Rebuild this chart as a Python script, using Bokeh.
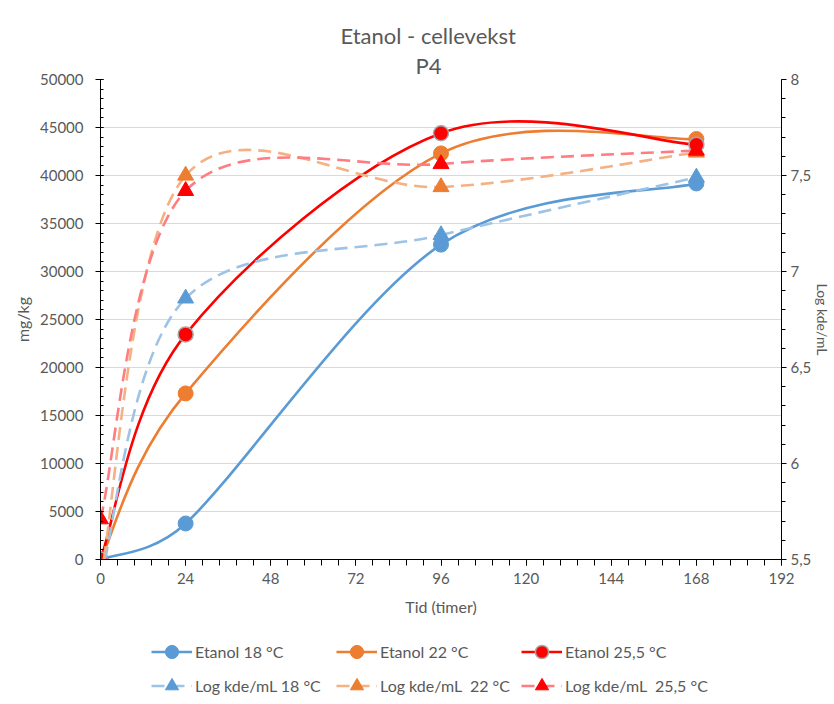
import numpy as np
from bokeh.plotting import figure
from bokeh.layouts import column
from bokeh.models import (Range1d, LinearAxis, Legend, LegendItem, Title,
                          SingleIntervalTicker, CustomJSTickFormatter, BasicTickFormatter)
from bokeh.embed import file_html
from bokeh.resources import INLINE

# ---------------- data ----------------
hours = [0, 24, 96, 168]
etanol_18 = [0, 3750, 32800, 39170]
etanol_22 = [0, 17300, 42300, 43800]
etanol_25_5 = [0, 23450, 44400, 43200]
log_18 = [5.4, 6.86, 7.19, 7.49]
log_22 = [5.4, 7.50, 7.44, 7.62]
log_25_5 = [5.71, 7.42, 7.56, 7.63]

x_ticks_interval = 24
title_main = "Etanol - cellevekst"
title_sub = "P4"

FONT = "Lato"
GREY = "#595959"

X_MAX = 192
Y_MAX = 50000
LOG_MIN, LOG_MAX = 5.5, 8
FRAME_W, FRAME_H = 683, 480


def smooth_segments(xs, ys, x_span, y_span):
    """Bezier control points of an Excel-like smoothed line (computed in screen proportions)."""
    sx = FRAME_W / x_span
    sy = FRAME_H / y_span
    P = np.column_stack([np.asarray(xs, float) * sx, np.asarray(ys, float) * sy])
    n = len(P)
    Pp = np.vstack([P[0], P, P[-1]])
    out = {k: [] for k in ("x0", "y0", "x1", "y1", "cx0", "cy0", "cx1", "cy1")}
    for i in range(n - 1):
        a, b = P[i], P[i + 1]
        seg = np.hypot(*(b - a))
        v1 = (Pp[i + 2] - Pp[i]) / 6
        v2 = (Pp[i + 3] - Pp[i + 1]) / 6
        for v in (v1, v2):
            L = np.hypot(*v)
            if L > seg / 2 and L > 0:
                v *= (seg / 2) / L
        c1 = a + v1
        c2 = b - v2
        out["x0"].append(a[0] / sx); out["y0"].append(a[1] / sy)
        out["x1"].append(b[0] / sx); out["y1"].append(b[1] / sy)
        out["cx0"].append(c1[0] / sx); out["cy0"].append(c1[1] / sy)
        out["cx1"].append(c2[0] / sx); out["cy1"].append(c2[1] / sy)
    return out


p = figure(width=834, height=632, output_backend="svg", toolbar_location=None,
           x_range=Range1d(0, X_MAX), y_range=Range1d(0, Y_MAX),
           min_border_left=100, min_border_right=51, min_border_top=79, min_border_bottom=73)
p.extra_y_ranges = {"log": Range1d(LOG_MIN, LOG_MAX)}
p.outline_line_color = None
p.background_fill_color = "white"
p.border_fill_color = "white"

# titles
p.add_layout(Title(text=title_sub, align="left", offset=315, text_font=FONT, text_font_size="22px",
                   text_color=GREY, text_font_style="normal", standoff=2), "above")
p.add_layout(Title(text=title_main, align="left", offset=240, text_font=FONT, text_font_size="22px",
                   text_color=GREY, text_font_style="normal", standoff=0), "above")

# axes
xa = p.xaxis[0]
xa.ticker = SingleIntervalTicker(interval=x_ticks_interval, num_minor_ticks=5)
xa.axis_label = "Tid (timer)"
ya = p.yaxis[0]
ya.ticker = SingleIntervalTicker(interval=5000, num_minor_ticks=5)
ya.formatter = BasicTickFormatter(use_scientific=False)
ya.axis_label = "mg/kg"

ra = LinearAxis(y_range_name="log",
                ticker=SingleIntervalTicker(interval=0.5, num_minor_ticks=5),
                formatter=CustomJSTickFormatter(code="return String(Math.round(tick*10)/10).replace('.', ',');"),
                axis_label="Log kde/mL")
p.add_layout(ra, "right")

for ax in (xa, ya, ra):
    ax.axis_line_color = "black"
    ax.major_tick_line_color = "black"
    ax.minor_tick_line_color = "black"
    ax.major_label_text_font = FONT
    ax.major_label_text_font_size = "15px"
    ax.major_label_text_color = GREY
    ax.axis_label_text_font = FONT
    ax.axis_label_text_font_size = "16px"
    ax.axis_label_text_color = GREY
    ax.axis_label_text_font_style = "normal"

xa.major_tick_in = 0; xa.major_tick_out = 6
xa.minor_tick_in = 0; xa.minor_tick_out = 6
xa.major_label_standoff = 7
xa.axis_label_standoff = 10

ya.major_tick_in = 3; ya.major_tick_out = 5
ya.minor_tick_in = 3; ya.minor_tick_out = 0
ya.major_label_standoff = 12
ya.axis_label_standoff = 5

ra.major_tick_in = 0; ra.major_tick_out = 5
ra.minor_tick_in = 0; ra.minor_tick_out = 4
ra.major_label_standoff = 4
ra.axis_label_standoff = 0
ra.axis_label_text_font_size = "14px"

p.xgrid.grid_line_color = None
p.ygrid.grid_line_color = "#d9d9d9"
p.ygrid.grid_line_width = 1

# ---------------- legend figure (below the chart) ----------------
lf = figure(width=834, height=72, output_backend="svg", toolbar_location=None,
            x_range=Range1d(1000, 1001), y_range=Range1d(1000, 1001),
            min_border_left=0, min_border_right=0, min_border_top=0, min_border_bottom=0)
lf.xaxis.visible = False
lf.yaxis.visible = False
lf.xgrid.visible = False
lf.ygrid.visible = False
lf.outline_line_color = None
lf.background_fill_color = "white"
lf.border_fill_color = "white"

# ---------------- series ----------------
series = [
    ("Etanol 18 °C", etanol_18, "default", "#5B9BD5", "#5B9BD5", "circle", None, "solid"),
    ("Etanol 22 °C", etanol_22, "default", "#ED7D31", "#ED7D31", "circle", None, "solid"),
    ("Etanol 25,5 °C", etanol_25_5, "default", "#FF0000", "#FF0000", "circle", "#A6A6A6", "solid"),
    ("Log kde/mL 18 °C", log_18, "log", "#9DC3E6", "#5B9BD5", "triangle", None, "13 7"),
    ("Log kde/mL  22 °C", log_22, "log", "#F4B183", "#ED7D31", "triangle", None, "13 7"),
    ("Log kde/mL  25,5 °C", log_25_5, "log", "#FF7C80", "#FF0000", "triangle", None, "13 7"),
]

items = []
for label, ys, rng, lcol, mcol, marker, outline, dash in series:
    if rng == "log":
        seg = smooth_segments(hours, [v - LOG_MIN for v in ys], X_MAX, LOG_MAX - LOG_MIN)
        for k in ("y0", "y1", "cy0", "cy1"):
            seg[k] = [v + LOG_MIN for v in seg[k]]
    else:
        seg = smooth_segments(hours, ys, X_MAX, Y_MAX)
    p.bezier(line_color=lcol, line_width=2.6, line_dash=dash, y_range_name=rng, **seg)
    msize = 15 if marker == "circle" else 16
    mline = outline if outline else mcol
    mlw = 1.5 if outline else 1
    p.scatter(hours, ys, marker=marker, size=msize, fill_color=mcol, line_color=mline,
              line_width=mlw, y_range_name=rng)
    # same series in the legend strip (outside its visible range), used for the legend entries
    ln = lf.line(hours, ys, line_color=lcol, line_width=2.6, line_dash=dash)
    sc = lf.scatter(hours, ys, marker=marker, size=msize, fill_color=mcol, line_color=mline,
                    line_width=mlw)
    items.append(LegendItem(label=label, renderers=[ln, sc]))

legend = Legend(items=items, orientation="horizontal", ncols=3,
                location=(51, 2), padding=0, margin=0, spacing=1,
                glyph_width=41, glyph_height=33, label_height=33, label_width=140,
                label_standoff=3,
                label_text_font=FONT, label_text_font_size="16px", label_text_color=GREY,
                border_line_color=None, background_fill_alpha=0)
lf.add_layout(legend, "center")

layout = column(p, lf, spacing=0)
open("out.html", "w").write(file_html(layout, INLINE))
